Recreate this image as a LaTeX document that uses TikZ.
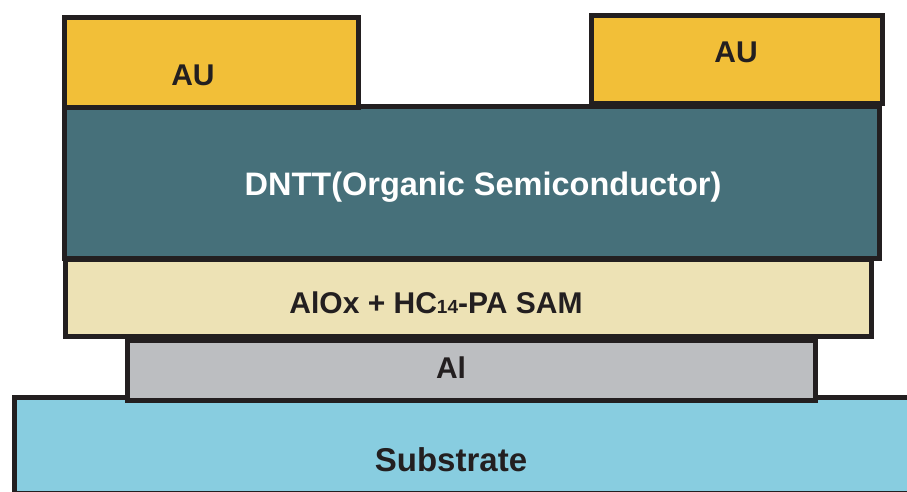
\documentclass[tikz,border=0pt]{standalone}
\usepackage{fontspec}
\setmainfont{Liberation Sans}
\usetikzlibrary{positioning}

\definecolor{aucol}{HTML}{F2BF38}
\definecolor{dnttcol}{HTML}{46707A}
\definecolor{aloxcol}{HTML}{EDE2B5}
\definecolor{alcol}{HTML}{BCBEC1}
\definecolor{subcol}{HTML}{88CDE0}
\definecolor{edgecol}{HTML}{231F20}

\begin{document}
\begin{tikzpicture}[
  x=1pt, y=-1pt,
  layer/.style={draw=edgecol, line width=4.5pt, anchor=north west, inner sep=0pt},
  lbl/.style={font=\bfseries\fontsize{30}{34}\selectfont, text=edgecol},
  biglbl/.style={font=\bfseries\fontsize{32.5}{36}\selectfont, text=white}
]
\useasboundingbox (0,0) rectangle (907,491);

% stack, bottom layer first
\node[layer, fill=subcol, minimum width=900pt, minimum height=96pt] (sub) at (12,395) {};
\node[layer, fill=alcol, minimum width=688pt, minimum height=60pt] (al) at (125,338) {};
\node[layer, fill=aloxcol, minimum width=806pt, minimum height=77pt] (alox) at (63,257) {};
\node[layer, fill=dnttcol, minimum width=815pt, minimum height=152pt] (dntt) at (62,104) {};
\node[layer, fill=aucol, minimum width=294pt, minimum height=90pt] (auleft) at (62,15) {};
\node[layer, fill=aucol, minimum width=291pt, minimum height=88pt] (auright) at (589,13) {};

% labels
\node[lbl] (tauleft) at (193,75) {AU};
\node[lbl] (tauright) at (736,52) {AU};
\node[biglbl] (tdntt) at (483,187) {DNTT(Organic Semiconductor)};
\node[lbl] (talox) at (436,303) {AlOx + HC{\fontsize{19}{19}\selectfont 14}-PA SAM};
\node[lbl] (tal) at (451,368) {Al};
\node[lbl] (tsub) at (451,460) {\fontsize{33}{34}\selectfont Substrate};
\end{tikzpicture}
\end{document}
